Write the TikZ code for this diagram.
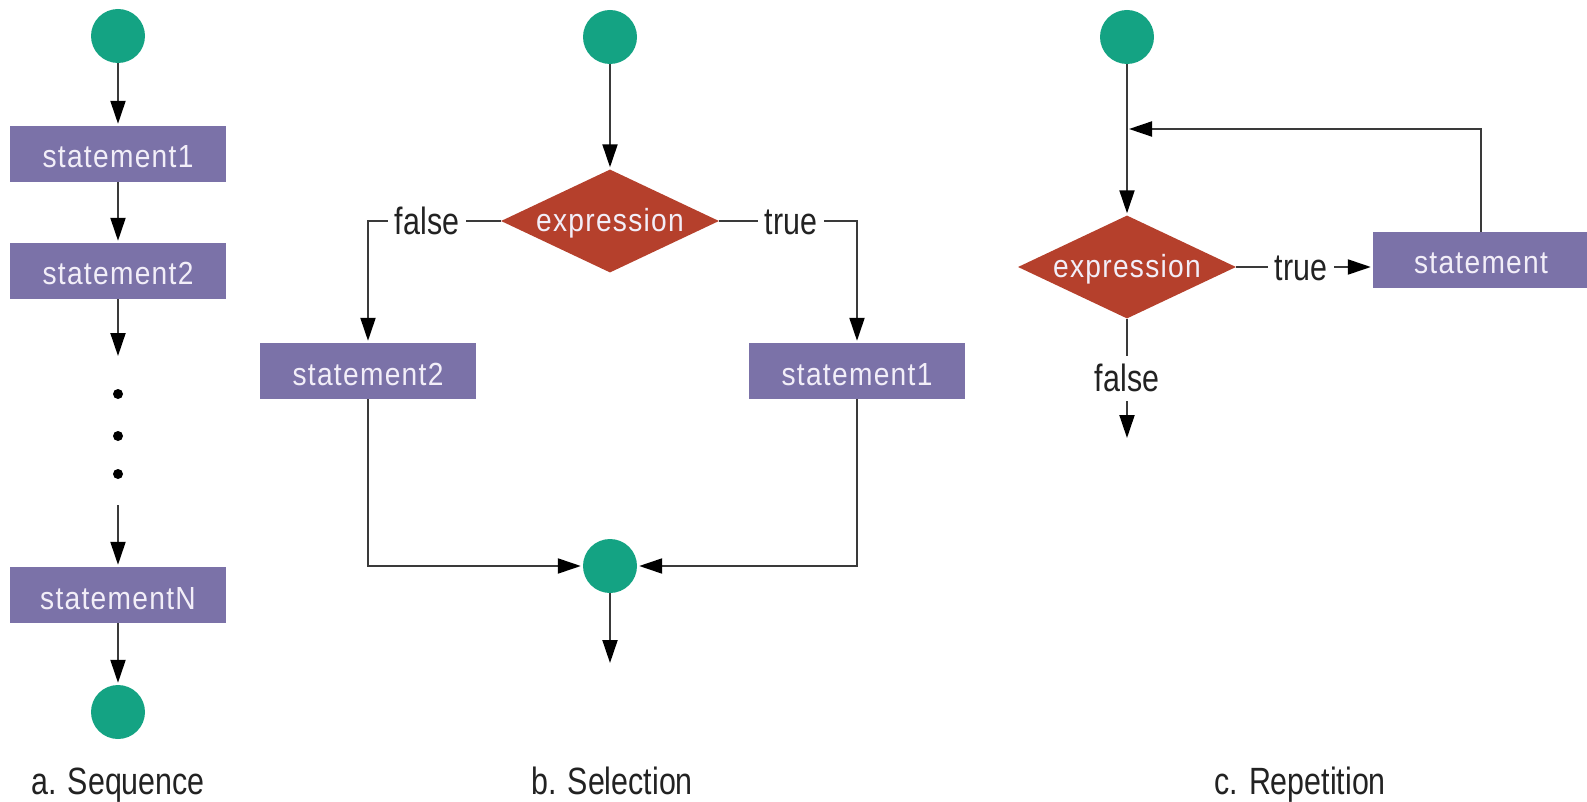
\documentclass[tikz,border=0pt]{standalone}
\usepackage{fontspec}
\setmainfont{Liberation Sans}[FakeStretch=0.8]
\newfontfamily\boxfont{Liberation Sans}[FakeStretch=0.88,LetterSpace=4]
\usetikzlibrary{shapes.geometric,arrows.meta}
\definecolor{grn}{HTML}{14A383}
\definecolor{purp}{HTML}{7B72A8}
\definecolor{redd}{HTML}{B5402C}
\definecolor{boxtxt}{HTML}{F2EEF8}
\definecolor{lc}{HTML}{3A3A3A}
\definecolor{txt}{HTML}{222222}
\tikzset{
  startend/.style={circle, fill=grn, minimum size=54pt, inner sep=0pt},
  stmt/.style={rectangle, fill=purp, minimum width=216pt, minimum height=56pt, inner sep=0pt,
    text=boxtxt, font=\boxfont\fontsize{32}{32}\selectfont, text height=28pt, text depth=0pt},
  decision/.style={diamond, aspect=2, fill=redd, minimum width=218pt, minimum height=103pt, inner sep=0pt,
    text=boxtxt, font=\boxfont\fontsize{32}{32}\selectfont, text height=21pt, text depth=0pt},
  lbl/.style={fill=white, inner xsep=7pt, inner ysep=9pt, text=txt,
    font=\fontsize{38}{38}\selectfont, text height=27pt, text depth=0pt},
  captxt/.style={text=txt, font=\fontsize{38}{38}\selectfont, text height=27pt, text depth=0pt, inner sep=0pt},
  flow/.style={draw=lc, line width=2pt},
  arr/.style={flow, -{Triangle[length=23pt,width=15pt,color=black,fill=black]}, shorten >=2pt},
  seqdot/.style={circle, fill=black, minimum size=10pt, inner sep=0pt},
}
\begin{document}
\begin{tikzpicture}[x=1pt,y=-1pt]
\useasboundingbox (0,0) rectangle (1587,802);
% ---------- a. Sequence ----------
\node[startend] (c1) at (118,36) {};
\node[stmt] (s1) at (118,154) {statement1};
\node[stmt] (s2) at (118,271) {statement2};
\coordinate (s2end) at (118,358);
\node[seqdot] (d1a) at (118,394) {};
\node[seqdot] (d1b) at (118,436) {};
\node[seqdot] (d1c) at (118,474) {};
\coordinate (sNstart) at (118,505);
\node[stmt] (sN) at (118,595) {statementN};
\node[startend] (c2) at (118,712) {};
\draw[arr] (c1) -- (s1);
\draw[arr] (s1) -- (s2);
\draw[arr] (s2) -- (s2end);
\draw[arr] (sNstart) -- (sN);
\draw[arr] (sN) -- (c2);
\node[captxt] (capA) at (118,781) {a. Sequence};
% ---------- b. Selection ----------
\node[startend] (c3) at (610,37) {};
\node[decision] (e1) at (610,221) {expression};
\node[stmt] (s3) at (368,371) {statement2};
\node[stmt] (s4) at (857,371) {statement1};
\node[startend] (c4) at (610,566) {};
\coordinate (c4end) at (610,665);
\draw[arr] (c3) -- (e1);
\draw[arr] (e1.west) -| (s3.north);
\draw[arr] (e1.east) -| (s4.north);
\node[lbl] (lf) at (427,221) {false};
\node[lbl] (lt) at (791,221) {true};
\draw[arr] (s3.south) |- (c4.west);
\draw[arr] (s4.south) |- (c4.east);
\draw[arr] (c4) -- (c4end);
\node[captxt] (capB) at (612,781) {b. Selection};
% ---------- c. Repetition ----------
\node[startend] (c5) at (1127,37) {};
\node[decision] (e2) at (1127,267) {expression};
\node[stmt] (s5) at (1481,260) {statement};
\coordinate (fb) at (1127,129);
\coordinate (e2end) at (1127,440);
\draw[arr] (c5) -- (e2);
\draw[arr] (s5.north) |- (fb);
\draw[arr] (e2.east) -- (e2.east -| s5.west);
\draw[arr] (e2.south) -- (e2end);
\node[lbl] (lt2) at (1301,267) {true};
\node[lbl] (lf2) at (1127,378) {false};
\node[captxt] (capC) at (1300,781) {c. Repetition};
\end{tikzpicture}
\end{document}
